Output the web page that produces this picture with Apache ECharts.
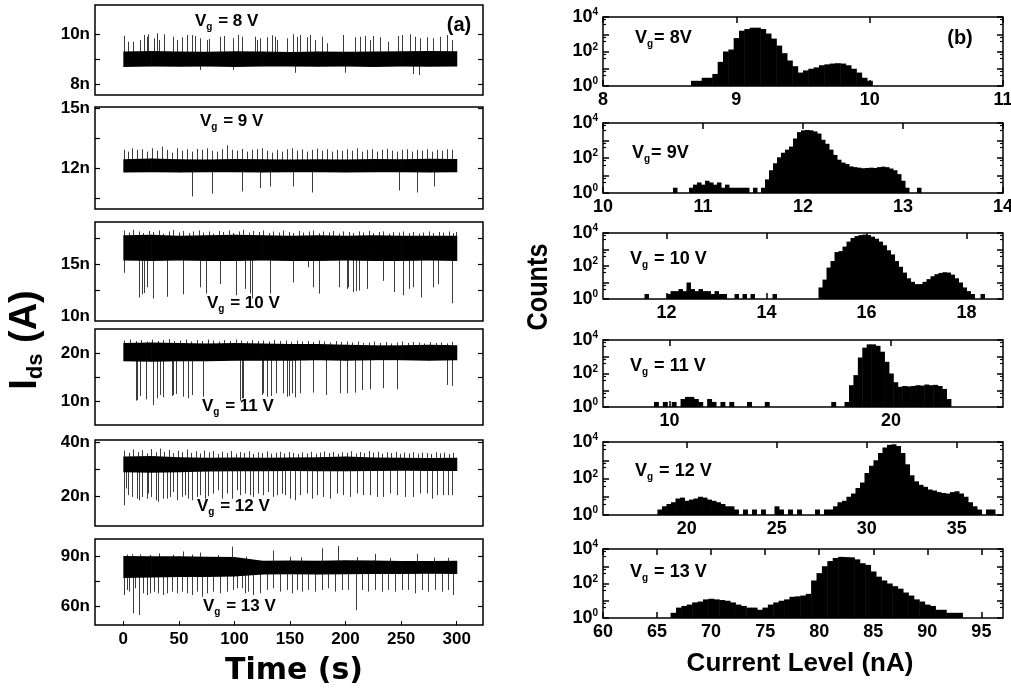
<!DOCTYPE html>
<html>
<head>
<meta charset="utf-8">
<script src="https://cdn.jsdelivr.net/npm/echarts@6/dist/echarts.min.js"></script>
<style>
  html, body { margin: 0; padding: 0; background: #fff; }
  #chart { width: 1011px; height: 689px; }
</style>
</head>
<body>
<div id="chart"></div>
<script>
// ---------- data: (a) current traces, values in nA, time in s ----------
const gateVoltages = [8, 9, 10, 11, 12, 13];
const timeTicks = [0, 50, 100, 150, 200, 250, 300];
const bandTimes = [0, 25, 50, 75, 100, 125, 150, 175, 200, 225, 250, 275, 300];
// dense part of each trace (upper / lower edge at each bandTimes point)
const bandTop = [
  [9.30, 9.32, 9.30, 9.29, 9.31, 9.30, 9.28, 9.30, 9.29, 9.30, 9.31, 9.32, 9.31],
  [12.45, 12.48, 12.45, 12.44, 12.46, 12.45, 12.43, 12.45, 12.44, 12.46, 12.45, 12.47, 12.46],
  [17.75, 17.8, 17.7, 17.75, 17.8, 17.75, 17.7, 17.75, 17.7, 17.75, 17.7, 17.7, 17.7],
  [22.1, 22.2, 22.1, 22.0, 22.1, 22.0, 21.9, 21.9, 21.7, 21.6, 21.6, 21.7, 21.6],
  [34.8, 35.0, 34.6, 34.4, 34.5, 34.4, 34.5, 34.6, 34.8, 34.5, 34.4, 34.3, 34.4],
  [90.0, 89.8, 89.8, 89.5, 89.3, 87.2, 87.3, 87.2, 87.5, 87.3, 87.0, 87.0, 87.2]
];
const bandBottom = [
  [8.68, 8.70, 8.69, 8.70, 8.68, 8.70, 8.70, 8.69, 8.70, 8.68, 8.70, 8.69, 8.70],
  [11.78, 11.80, 11.78, 11.79, 11.80, 11.78, 11.80, 11.79, 11.78, 11.80, 11.79, 11.78, 11.80],
  [15.35, 15.3, 15.35, 15.3, 15.3, 15.35, 15.3, 15.3, 15.35, 15.3, 15.3, 15.35, 15.3],
  [18.3, 18.2, 18.3, 18.3, 18.4, 18.4, 18.4, 18.5, 18.4, 18.5, 18.5, 18.4, 18.5],
  [29.0, 28.8, 29.0, 29.2, 29.3, 29.3, 29.4, 29.3, 29.3, 29.4, 29.5, 29.4, 29.4],
  [77.0, 77.2, 77.5, 77.5, 77.8, 79.0, 79.2, 79.0, 79.2, 79.3, 79.3, 79.5, 79.3]
];
const traceLevel = [9.0, 12.1, 16.5, 20.2, 31.5, 84];
const traceYTicks = [[8, 9, 10], [10.5, 12, 13.5, 15], [12.5, 15, 17.5], [10, 15, 20], [20, 30, 40], [60, 75, 90]];
const traceYLabels = [[8, 10], [12, 15], [10, 15], [10, 20], [20, 40], [60, 90]];

// switching spikes [t, peak current]
const upSpikes = [
  [[0.6,9.93],[4.5,9.69],[9,9.69],[15,9.76],[18.6,9.96],[21,9.89],[22.5,9.99],[27.6,9.83],[30,10.03],[32.4,9.76],
   [36.9,9.99],[45,9.89],[48,9.76],[52.5,9.87],[57,9.96],[61.5,9.96],[64.5,9.92],[69,9.83],[75,9.76],[77.4,9.8],
   [87,9.89],[90.6,9.92],[99,9.83],[103.5,9.97],[107.1,9.89],[118.5,9.89],[120,9.76],[123,9.83],[129,9.87],[133.5,9.95],
   [136.5,9.89],[138,9.76],[147,9.83],[153,9.99],[156,9.89],[159,9.96],[165,9.87],[168,9.96],[172.5,9.76],[178.5,9.89],
   [183,9.63],[198,9.96],[208.5,9.87],[213,9.89],[217.5,9.92],[222,9.76],[225,9.92],[231,9.87],[238.5,9.69],[247.5,9.92],
   [250.5,9.96],[258,9.99],[262.5,9.89],[267,9.83],[273,9.87],[279,9.83],[285,9.89],[291,9.96],[295.5,9.76]],
  [[0.6,12.92],[4.5,12.83],[7.5,13.0],[12,12.92],[16.5,12.95],[21,12.83],[25.5,13.0],[30,12.88],[34.5,13.08],[39,12.92],
   [43.5,12.78],[48,13.0],[52.5,12.88],[57,12.95],[61.5,12.83],[66,12.97],[70.5,12.92],[75,13.0],[79.5,12.88],[84,12.83],
   [88.5,12.95],[93,13.15],[97.5,12.92],[102,12.88],[106.5,12.97],[111,12.83],[115.5,12.92],[120,12.95],[124.5,13.0],[129,12.88],
   [133.5,12.78],[138,12.92],[142.5,12.83],[147,12.95],[151.5,13.0],[156,12.88],[160.5,12.95],[165,12.83],[169.5,12.92],[174,12.98],
   [178.5,12.88],[183,12.95],[187.5,12.83],[192,12.92],[196.5,12.87],[201,12.95],[205.5,12.88],[210,13.0],[214.5,12.83],[219,12.92],
   [223.5,12.95],[228,12.83],[232.5,12.92],[237,12.97],[241.5,12.88],[246,12.83],[250.5,12.92],[255,12.95],[259.5,12.83],[264,12.92],
   [268.5,12.88],[273,12.95],[277.5,12.83],[282,12.92],[286.5,12.88],[291,12.95],[295.5,12.92]],
  [[0.6,18.2],[5,18.0],[9,18.25],[14,18.1],[18,17.95],[23,18.15],[27,18.05],[32,18.2],[36,17.9],[41,18.1],
   [45,18.25],[50,18.0],[54,18.15],[59,17.95],[63,18.1],[68,18.2],[72,18.0],[77,18.1],[81,17.9],[86,18.15],
   [90,18.05],[95,18.2],[99,17.95],[104,18.1],[108,18.25],[113,18.0],[117,18.15],[122,18.05],[126,18.2],[131,17.95],
   [135,18.1],[140,18.0],[144,18.2],[149,18.05],[153,17.95],[158,18.15],[162,18.0],[167,18.1],[171,18.2],[176,17.95],
   [180,18.1],[185,18.0],[189,18.15],[194,17.9],[198,18.1],[203,18.05],[207,17.95],[212,18.1],[216,18.0],[221,18.15],
   [225,17.95],[230,18.05],[234,18.1],[239,17.9],[243,18.05],[248,18.0],[252,18.1],[257,17.95],[261,18.05],[266,17.9],
   [270,18.0],[275,18.1],[279,17.95],[284,18.05],[288,18.0],[293,18.1],[297,17.95],[299.5,18.05]],
  [[1,22.6],[6,22.8],[11,22.5],[16,22.7],[21,22.4],[26,22.8],[31,22.5],[36,22.7],[41,22.9],[46,22.5],
   [51,22.6],[56,22.8],[61,22.4],[66,22.7],[71,22.5],[76,22.8],[81,22.6],[86,22.4],[91,22.7],[96,22.5],
   [101,22.8],[106,22.6],[111,22.4],[116,22.7],[121,22.5],[126,22.6],[131,22.4],[136,22.7],[141,22.5],[146,22.6],
   [151,22.3],[156,22.6],[161,22.4],[166,22.5],[171,22.3],[176,22.6],[181,22.4],[186,22.2],[191,22.5],[196,22.3],
   [201,22.4],[206,22.2],[211,22.4],[216,22.1],[221,22.2],[226,22.4],[231,22.1],[236,22.3],[241,22.0],[246,22.2],
   [251,22.4],[256,22.1],[261,22.3],[266,22.2],[271,22.0],[276,22.3],[281,22.1],[286,22.2],[291,22.0],[296,22.3]],
  [[1,37],[5,36.2],[9,37.5],[13,36.5],[17,37.2],[21,36],[25,37.6],[29,36.4],[33,37.8],[37,36.6],
   [41,37.3],[45,36.1],[49,37],[53,36.5],[57,37.4],[61,36.2],[65,36.8],[69,36],[73,37.1],[77,36.4],
   [81,36.9],[85,35.8],[89,36.6],[93,36.1],[97,36.9],[101,35.9],[105,36.5],[109,36.2],[113,36.8],[117,35.8],
   [121,36.4],[125,36.1],[129,36.7],[133,35.9],[137,36.3],[141,36.6],[145,36],[149,36.5],[153,36.2],[157,35.8],
   [161,36.4],[165,36],[169,36.6],[173,35.9],[177,36.3],[181,36.7],[185,36.1],[189,36.5],[193,35.9],[197,36.4],
   [201,36.2],[205,36.8],[209,36],[213,36.5],[217,36.1],[221,36.9],[225,36.3],[229,36.6],[233,35.9],[237,36.4],
   [241,36.1],[245,36.6],[249,35.8],[253,36.3],[257,36],[261,36.5],[265,35.9],[269,36.3],[273,36.1],[277,35.8],
   [281,36.4],[285,36],[289,36.3],[293,35.8],[297,36.2]],
  [[3,90.8],[8,91],[15,90.9],[24,90.6],[32,91.5],[45,90.7],[54,92.6],[62,90.8],[69,92],[85,90.6],
   [97.5,95.5],[110,89.6],[135,93.2],[150,89.5],[160,89.2],[178.5,94.5],[192.9,95.9],[210,89.3],[226.5,91.2],[240,88.8],
   [264,91.2],[280,89],[292,88.9]]
];
const downSpikes = [
  [[69,8.56],[99,8.56],[154.5,8.45],[199.5,8.45],[261,8.4],[266.4,8.36]],
  [[61.5,10.58],[80.1,10.72],[106.5,10.83],[123,11.0],[132,11.08],[152.4,11.08],[170.1,10.78],[248.1,10.88],[264,10.78],[279.6,11.08]],
  [[0.6,14.18],[14.4,11.83],[16.5,12.13],[18.6,12.26],[21,12.8],[26.4,11.74],[39,11.9],[53.4,12.13],[69,12.8],[74.4,12.2],
   [87,13.1],[101.4,12.04],[109.5,12.65],[114,12.2],[116.1,11.74],[132,12.2],[153,13.26],[166.5,14.7],[171,12.8],[175.8,12.2],
   [194.1,12.8],[201,12.65],[202.5,12.8],[207,12.35],[209.4,12.44],[211.8,12.5],[219,12.65],[233.4,13.41],[243.6,12.35],[252,12.04],
   [257.4,12.65],[261,12.8],[267.6,11.83],[279,12.8],[283.5,13.1],[296.1,11.28]],
  [[11.4,10.07],[12.6,10.2],[15,11.05],[20.4,10.35],[26.4,9.16],[30,10.56],[33,11.26],[36,10.77],[43.8,11.05],[45,11.26],
   [47.4,11.47],[53.4,10.9],[58.5,10.56],[61.5,11.26],[72,10.9],[105,10.07],[106.8,10.56],[108,10.56],[124.5,11.26],[126,11.6],
   [129,10.9],[132.6,11.05],[137.4,11.6],[144,11.6],[147,10.9],[149.4,11.05],[151.5,11.6],[154.5,10.77],[159,11.6],[171,11.74],
   [182.4,11.26],[195,11.6],[201,11.6],[208.5,11.74],[214.5,12.3],[222,12.45],[234,12.66],[246,12.45],[291,13.35],[295.5,13.14]],
  [[0.6,16.6],[2.4,22.9],[4.5,20.4],[7.5,19.75],[12,19.1],[14.4,18.5],[16.5,19.75],[21,19.1],[22.5,21.0],[24.6,19.75],
   [29.4,18.5],[31.5,17.9],[36,19.1],[39,19.1],[42,19.75],[45,21.6],[48,18.5],[52.5,19.75],[55.5,20.4],[58.5,19.1],
   [61.5,18.5],[66,19.75],[69,20.4],[73.5,19.1],[76.5,20.0],[81,21.0],[85.5,22.25],[88.5,19.1],[93,21.0],[97.5,19.1],
   [102,22.25],[105,20.4],[109.5,21.0],[114,20.4],[117,19.75],[121.5,21.0],[126,20.4],[130.5,21.6],[135,19.75],[138,20.4],
   [142.5,21.0],[145.5,20.4],[150,19.1],[154.5,18.5],[159,20.4],[165,21.0],[169.5,19.1],[174,20.4],[180,19.75],[186,19.1],
   [192,21.0],[198,20.4],[204,19.75],[210,21.0],[216,20.4],[222,20.4],[228,19.75],[234,19.75],[240,21.0],[246,20.4],
   [253.5,19.75],[261,19.75],[267,21.0],[273,21.0],[277.5,19.1],[282,20.4],[288,20.4],[292.5,20.4],[295.5,20.4]],
  [[0.6,66.9],[3,69.9],[5.4,68.9],[8.4,56.05],[10.5,70.9],[14.4,55.07],[18,67.9],[21,66.9],[24,67.9],[27.6,68.9],
   [31.5,67.9],[36,66.9],[39,67.9],[43.5,68.9],[48,67.9],[52.5,68.9],[57,67.9],[61.5,66.9],[66,68.9],[70.5,65.9],
   [75,67.9],[81,68.9],[87,67.9],[93,68.9],[99,69.9],[102.6,70.9],[106.5,70.9],[109.5,67.9],[112.5,68.9],[117,66.9],
   [123,67.9],[129,69.9],[135,70.9],[141,68.9],[147,69.9],[151.5,67.9],[156,69.9],[160.5,68.9],[166.5,69.9],[172.5,68.9],
   [178.5,69.9],[184.5,70.9],[190.5,68.9],[196.5,69.9],[202.5,69.9],[209.1,58.0],[214.5,69.9],[220.5,68.9],[226.5,69.9],[232.5,68.9],
   [238.5,69.9],[244.5,68.9],[250.5,69.9],[256.5,69.9],[262.5,67.9],[268.5,69.9],[274.5,68.9],[280.5,69.9],[286.5,68.9],[292.5,69.9],
   [297,66.9]]
];

// ---------- data: (b) histograms of current level (nA) vs counts ----------
const histX = [
  [8.68,8.72,8.76,8.80,8.84,8.88,8.92,8.96,9.00,9.04,9.08,9.12,9.16,9.20,9.24,9.28,9.32,9.36,9.40,9.44,9.48,9.52,9.56,9.60,9.64,9.68,9.72,9.76,9.80,9.84,9.88,9.92,9.96,10.00],
  [10.72,10.88,10.92,10.96,11.00,11.04,11.08,11.12,11.16,11.20,11.24,11.28,11.32,11.36,11.40,11.44,11.52,11.60,11.64,11.68,11.72,11.76,11.80,11.84,11.88,11.92,11.96,12.00,12.04,12.08,12.12,12.16,12.20,12.24,12.28,12.32,12.36,12.40,12.44,12.48,12.52,12.56,12.60,12.64,12.68,12.72,12.76,12.80,12.84,12.88,12.92,12.96,13.00,13.04,13.16],
  [11.60,12.04,12.12,12.20,12.28,12.36,12.44,12.52,12.60,12.68,12.76,12.84,12.92,13.00,13.08,13.16,13.40,13.56,13.72,14.16,15.08,15.16,15.24,15.32,15.40,15.48,15.56,15.64,15.72,15.80,15.88,15.96,16.04,16.12,16.20,16.28,16.36,16.44,16.52,16.60,16.68,16.76,16.84,16.92,17.00,17.08,17.16,17.24,17.32,17.40,17.48,17.56,17.64,17.72,17.80,17.88,17.96,18.04,18.12,18.32],
  [9.4,9.8,10.2,10.6,10.8,11.0,11.2,11.4,11.8,12.0,12.4,12.8,13.6,14.4,17.4,18.0,18.2,18.4,18.6,18.8,19.0,19.2,19.4,19.6,19.8,20.0,20.2,20.4,20.6,20.8,21.0,21.2,21.4,21.6,21.8,22.0,22.2,22.4,22.6],
  [18.5,18.75,19.0,19.25,19.5,19.75,20.0,20.25,20.5,20.75,21.0,21.25,21.5,21.75,22.0,22.25,22.5,22.75,23.25,23.75,24.25,25.0,25.25,25.75,26.25,27.25,27.75,28.0,28.25,28.5,28.75,29.0,29.25,29.5,29.75,30.0,30.25,30.5,30.75,31.0,31.25,31.5,31.75,32.0,32.25,32.5,32.75,33.0,33.25,33.5,33.75,34.0,34.25,34.5,34.75,35.0,35.25,35.5,35.75,36.0,36.25,36.75,37.0],
  [66.5,67.0,67.5,68.0,68.5,69.0,69.5,70.0,70.5,71.0,71.5,72.0,72.5,73.0,73.5,74.0,74.5,75.0,75.5,76.0,76.5,77.0,77.5,78.0,78.5,79.0,79.5,80.0,80.5,81.0,81.5,82.0,82.5,83.0,83.5,84.0,84.5,85.0,85.5,86.0,86.5,87.0,87.5,88.0,88.5,89.0,89.5,90.0,90.5,91.0,91.5,92.0,92.5,93.0]
];
const histCounts = [
  [2,2,3,3,5,25,100,130,600,1600,2000,2400,2400,2000,1100,560,220,80,30,14,6,8,10,12,16,18,20,21,20,16,10,6,3,2],
  [2,2,3,4,3,5,4,3,4,2,3,2,2,2,2,2,2,2,6,20,50,110,200,300,450,1300,3000,3800,4000,3800,3300,2500,1100,650,300,150,80,55,45,33,30,28,26,27,28,27,30,32,30,25,20,12,5,2,2],
  [2,2,3,3,4,3,10,4,3,4,3,3,2,3,2,2,2,2,2,2,5,15,80,200,700,800,1500,3000,5000,6500,7500,8000,7500,6000,4500,3000,1800,900,500,200,90,40,18,11,8,8,11,16,24,32,38,42,40,30,18,10,5,3,2,2],
  [2,2,2,3,4,4,3,2,3,2,2,2,2,2,2,2,20,80,900,3500,5500,5500,4500,2000,500,100,30,16,18,17,18,20,19,22,20,21,18,12,3],
  [2,3,4,5,8,9,6,7,8,10,9,7,6,5,4,3,3,2,2,2,2,3,2,2,2,2,2,2,3,5,6,10,15,30,60,200,500,1000,2500,5000,7000,7500,6000,2500,600,150,70,45,35,25,22,18,16,15,18,20,15,10,5,3,2,2,2],
  [2,4,5,6,8,9,12,13,12,11,10,8,6,5,4,4,3,4,6,8,10,12,17,18,20,25,150,400,1000,2000,3000,3500,3400,3300,2500,1500,1200,500,250,150,100,70,50,30,20,12,9,6,5,3,3,2,2,2]
];
const histXLabels = [[8, 9, 10, 11], [10, 11, 12, 13, 14], [12, 14, 16, 18], [10, 20], [20, 25, 30, 35], [60, 65, 70, 75, 80, 85, 90, 95]];

// ---------- layout ----------
const FONT = '"Liberation Sans", Arial, sans-serif';
const WIDE = '"DejaVu Sans", sans-serif';
const leftBoxes = [[95, 5, 388, 90], [95, 107, 388, 102], [95, 222, 388, 99], [95, 329, 388, 96], [95, 440, 388, 86], [95, 539, 388, 86]];
const rightBoxes = [[603, 17, 400, 69], [603, 123, 400, 70], [603, 233, 400, 66], [603, 340, 400, 67], [603, 442, 400, 73], [603, 549, 400, 69]];
const timeRange = [-25.5, 323.7];
const traceYRange = [[7.56, 11.16], [9.95, 15.07], [9.6, 19.0], [5, 25], [8.9, 41], [49.2, 100]];
const histXRange = [[8, 11], [10, 14], [10.73, 18.73], [7, 25.05], [15.35, 37.57], [60, 97]];
const histBinWidth = [0.04, 0.04, 0.08, 0.2, 0.25, 0.5];

const tickFont = { fontFamily: FONT, fontWeight: 'bold', fontSize: 17, color: '#000' };
const noLine = { show: false, onZero: false };
const grid = [], xAxis = [], yAxis = [], series = [];

function boxGrid(b) {
  grid.push({ left: b[0], top: b[1], width: b[2], height: b[3], show: true,
    borderColor: '#000', borderWidth: 1.5, backgroundColor: 'transparent', outerBoundsMode: 'none' });
  return grid.length - 1;
}

// (a) traces
leftBoxes.forEach((b, i) => {
  const gi = boxGrid(b);
  const last = i === leftBoxes.length - 1;
  const xi = xAxis.length;
  xAxis.push({ type: 'value', gridIndex: gi, min: timeRange[0], max: timeRange[1],
    axisLine: noLine, splitLine: { show: false },
    axisTick: { show: last, inside: true, length: 4, customValues: timeTicks, lineStyle: { color: '#000' } },
    axisLabel: { show: last, customValues: timeTicks, margin: 6, ...tickFont } });
  const yi = yAxis.length;
  const yBase = { type: 'value', gridIndex: gi, min: traceYRange[i][0], max: traceYRange[i][1],
    axisLine: noLine, splitLine: { show: false },
    axisTick: { inside: true, length: 5, customValues: traceYTicks[i], lineStyle: { color: '#000', width: 1.2 } } };
  yAxis.push({ ...yBase, axisLabel: { customValues: traceYLabels[i], formatter: v => v + 'n', margin: 5, ...tickFont } });
  yAxis.push({ ...yBase, position: 'right', axisLabel: { show: false } });

  // spikes first so the dense band covers their roots
  const spikeItem = (p, api) => {
    const tip = api.coord([api.value(0), api.value(1)]);
    const base = api.coord([api.value(0), traceLevel[i]]);
    const x = Math.round(tip[0]) + 0.5;
    return { type: 'line', shape: { x1: x, y1: base[1], x2: x, y2: tip[1] }, style: { stroke: '#3c3c3c', lineWidth: 1 } };
  };
  series.push({ type: 'custom', xAxisIndex: xi, yAxisIndex: yi, clip: true, silent: true, data: upSpikes[i], renderItem: spikeItem });
  series.push({ type: 'custom', xAxisIndex: xi, yAxisIndex: yi, clip: true, silent: true, data: downSpikes[i], renderItem: spikeItem });
  series.push({
    type: 'custom', xAxisIndex: xi, yAxisIndex: yi, clip: true, silent: true,
    data: bandTimes.slice(0, -1).map((t, k) => [t, bandTimes[k + 1], bandBottom[i][k], bandTop[i][k], bandBottom[i][k + 1], bandTop[i][k + 1]]),
    renderItem: (p, api) => {
      const t0 = api.value(0), t1 = api.value(1);
      const pts = [
        api.coord([t0, api.value(3)]), api.coord([t1, api.value(5)]),
        api.coord([t1, api.value(4)]), api.coord([t0, api.value(2)])
      ];
      pts[1][0] += 0.6; pts[2][0] += 0.6;
      return { type: 'polygon', shape: { points: pts }, style: { fill: '#000' } };
    }
  });
});

// (b) histograms
const powLabel = v => {
  const e = Math.round(Math.log10(v));
  return e % 2 === 0 ? '{b|10}{e|' + e + '}' : '';
};
rightBoxes.forEach((b, i) => {
  const gi = boxGrid(b);
  const xi = xAxis.length;
  const xBase = { type: 'value', gridIndex: gi, min: histXRange[i][0], max: histXRange[i][1],
    axisLine: noLine, splitLine: { show: false },
    axisTick: { inside: true, length: 6, customValues: histXLabels[i], lineStyle: { color: '#000', width: 1.5 } } };
  xAxis.push({ ...xBase, axisLabel: { customValues: histXLabels[i], margin: 5, ...tickFont, fontSize: 18 } });
  xAxis.push({ ...xBase, position: 'top', axisLabel: { show: false } });
  const yi = yAxis.length;
  const yBase = { type: 'log', logBase: 10, gridIndex: gi, min: 1, max: 10000,
    axisLine: noLine, splitLine: { show: false },
    axisTick: { inside: true, length: 6, lineStyle: { color: '#000', width: 1.5 } },
    minorTick: { show: true, splitNumber: 3, length: 3, lineStyle: { color: '#000', width: 1.2 } } };
  yAxis.push({ ...yBase, axisLabel: { formatter: powLabel, margin: 5, color: '#000',
    rich: {
      b: { fontFamily: FONT, fontWeight: 'bold', fontSize: 18, color: '#000' },
      e: { fontFamily: FONT, fontWeight: 'bold', fontSize: 10, color: '#000', verticalAlign: 'top', padding: [0, 0, 9, 0] }
    } } });
  yAxis.push({ ...yBase, position: 'right', axisLabel: { show: false } });
  const w = histBinWidth[i];
  series.push({
    type: 'custom', xAxisIndex: xi, yAxisIndex: yi, clip: true, silent: true,
    data: histX[i].map((x, k) => [x, histCounts[i][k]]),
    renderItem: (p, api) => {
      const a = api.coord([api.value(0) - w / 2, api.value(1)]);
      const c = api.coord([api.value(0) + w / 2, 1]);
      return { type: 'rect', shape: { x: a[0], y: a[1], width: c[0] - a[0] + 0.5, height: c[1] - a[1] }, style: { fill: '#000' } };
    }
  });
});

// ---------- text ----------
function vgText(x, y, v, size, tight) {
  return {
    type: 'text', x: x, y: y, silent: true,
    style: {
      text: '{v|V}{s|g}{v|' + (tight ? '= ' + v + 'V' : ' = ' + v + ' V') + '}',
      fill: '#000', align: 'left', verticalAlign: 'middle',
      rich: {
        v: { fontFamily: FONT, fontWeight: 'bold', fontSize: size, fill: '#000' },
        s: { fontFamily: FONT, fontWeight: 'bold', fontSize: 10, fill: '#000', padding: [12, 1, 0, 0] }
      }
    }
  };
}
const leftLabelPos = [[195, 21], [200, 121], [207, 303], [202, 406], [197, 506], [203, 606]];
const rightLabelPos = [[635, 38], [632, 153], [630, 259], [630, 366], [635, 471], [630, 572]];
const graphic = [];
gateVoltages.forEach((v, i) => {
  graphic.push(vgText(leftLabelPos[i][0], leftLabelPos[i][1], v, 17, false));
  graphic.push(vgText(rightLabelPos[i][0], rightLabelPos[i][1], v, 18, i < 2));
});
graphic.push({ type: 'text', x: 459, y: 25, silent: true,
  style: { text: '(a)', fill: '#000', font: 'bold 20px ' + FONT, align: 'center', verticalAlign: 'middle' } });
graphic.push({ type: 'text', x: 960, y: 38, silent: true,
  style: { text: '(b)', fill: '#000', font: 'bold 20px ' + FONT, align: 'center', verticalAlign: 'middle' } });
graphic.push({ type: 'text', x: 294, y: 671, silent: true,
  style: { text: 'Time (s)', fill: '#000', font: 'bold 30px ' + WIDE, align: 'center', verticalAlign: 'middle' } });
graphic.push({ type: 'text', x: 800, y: 664, silent: true,
  style: { text: 'Current Level (nA)', fill: '#000', font: 'bold 26px ' + FONT, align: 'center', verticalAlign: 'middle' } });
graphic.push({ type: 'text', x: 539, y: 287, rotation: Math.PI / 2, scaleX: 0.84, silent: true,
  style: { text: 'Counts', fill: '#000', font: 'bold 30px ' + FONT, align: 'center', verticalAlign: 'middle' } });
graphic.push({ type: 'text', x: 26, y: 340, rotation: Math.PI / 2, silent: true,
  style: {
    text: '{i|I}{s|ds}{p| (A)}', fill: '#000', align: 'center', verticalAlign: 'middle',
    rich: {
      i: { fontFamily: FONT, fontWeight: 'bold', fontSize: 38, fill: '#000' },
      s: { fontFamily: FONT, fontWeight: 'bold', fontSize: 22, fill: '#000', padding: [20, 0, 0, 0] },
      p: { fontFamily: FONT, fontWeight: 'bold', fontSize: 38, fill: '#000' }
    }
  } });

const chart = echarts.init(document.getElementById('chart'), null, { renderer: 'canvas' });
chart.setOption({
  animation: false,
  backgroundColor: '#fff',
  grid, xAxis, yAxis, series, graphic
});
</script>
</body>
</html>
